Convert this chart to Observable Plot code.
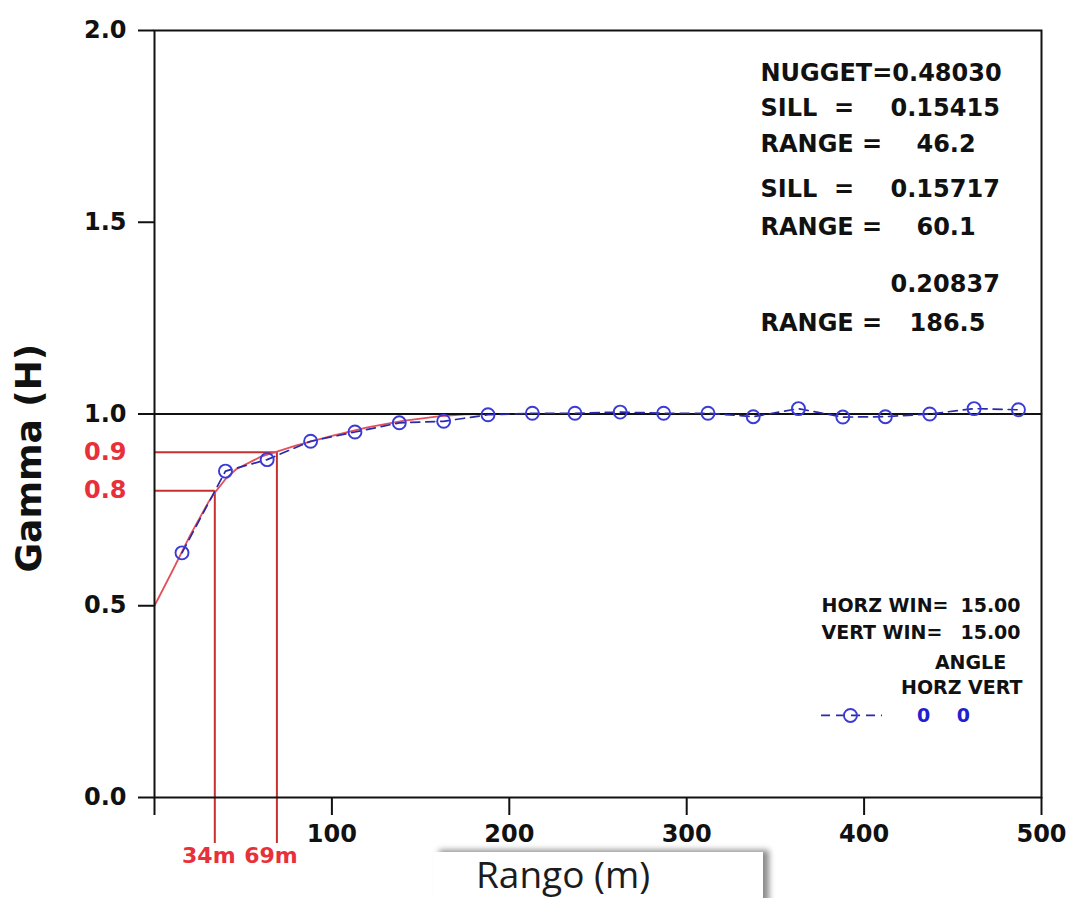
<!DOCTYPE html>
<html>
<head>
<meta charset="utf-8">
<script src="https://cdn.jsdelivr.net/npm/d3@7"></script>
<script src="https://cdn.jsdelivr.net/npm/@observablehq/plot@0.6"></script>
<style>
  html, body { margin: 0; padding: 0; background: #fff; }
  #wrap { position: relative; width: 1071px; height: 898px; overflow: hidden; }
  #wrap svg text { white-space: pre; }
  #xlabel {
    position: absolute; left: 433px; top: 852px; width: 330px; height: 70px;
    background: #fff; box-shadow: 6px -2px 6px rgba(0,0,0,0.45);
  }
  #xlabel span {
    position: absolute; left: 43px; top: 3px; font-family: "Open Sans", sans-serif;
    font-size: 37px; line-height: 37px; color: #1c1c1c; font-weight: 500; white-space: pre;
  }
</style>
</head>
<body>
<div id="wrap"></div>
<script>
// ---- data ----
const lags  = [15.5, 40, 63.5, 88, 113, 138, 163, 188, 213, 237, 262.5, 287, 312, 337.5, 363, 388, 412, 437, 462, 487];
const gamma = [0.638, 0.851, 0.881, 0.929, 0.953, 0.977, 0.981, 0.998, 1.002, 1.002, 1.005, 1.002, 1.002, 0.993, 1.014, 0.992, 0.993, 1.000, 1.014, 1.011];

const modelLag   = [0, 10, 20, 30, 34, 40, 46, 55, 60, 69, 80, 100, 120, 140, 160, 175, 186.5, 500];
const modelGamma = [0.50, 0.59, 0.683, 0.767, 0.795, 0.830, 0.856, 0.877, 0.889, 0.902, 0.918, 0.943, 0.965, 0.982, 0.994, 0.999, 1.0, 1.0];

const refLevel = [0.8, 0.9];
const refRange = [34, 69];
const refLabel = ["34m", "69m"];

const yTicks = [0, 0.5, 1, 1.5, 2];
const xTicks = [0, 100, 200, 300, 400, 500];

const nugget = 0.48030;
const sills  = [0.15415, 0.15717, 0.20837];
const ranges = [46.2, 60.1, 186.5];
const horzWin = 15.00, vertWin = 15.00;
const angleHorz = 0, angleVert = 0;

// ---- tables ----
const pts   = lags.map((x, i) => ({x, y: gamma[i]}));
const model = modelLag.map((x, i) => ({x, y: modelGamma[i]}));
const refs  = refLevel.map((g, i) => ({g, h: refRange[i], label: refLabel[i]}));

const BLK = "#111";
const RED = "#c8302e";
const RED2 = "#e8303a";
const PINK = "#e2505c";
const BLUE = "#3a3ad8";
const FONT = "'DejaVu Sans', sans-serif";

const txt = (s, o) => Plot.text([s], {text: d => d, lineAnchor: "bottom", fontSize: 24, fontWeight: "bold", fill: BLK, ...o});

const chart = Plot.plot({
  width: 1071, height: 898,
  marginLeft: 154, marginRight: 30, marginTop: 30, marginBottom: 101,
  style: {fontFamily: FONT, fontWeight: "bold", background: "#fff", overflow: "visible"},
  x: {domain: [0, 500]},
  y: {domain: [0, 2]},
  marks: [
    // reference lines
    Plot.ruleY(refs, {y: "g", x1: 0, x2: "h", stroke: RED, strokeWidth: 2}),
    Plot.ruleX(refs, {x: "h", y1: "g", y2: -0.12, stroke: RED, strokeWidth: 2}),
    Plot.text(refs, {x: "h", y: -0.152, text: "label", dx: -6, fill: RED2, fontSize: 22, fontWeight: "bold"}),
    // model
    Plot.line(model, {x: "x", y: "y", stroke: PINK, strokeWidth: 1.8}),
    // sill line
    Plot.ruleY([1], {stroke: BLK, strokeWidth: 2}),
    // experimental
    Plot.line(pts, {x: "x", y: "y", stroke: "#2a2aa8", strokeWidth: 1.7, strokeDasharray: "9,6"}),
    Plot.dot(pts, {x: "x", y: "y", r: 6.5, stroke: BLUE, strokeWidth: 1.9, fill: "none"}),
    // frame and axes
    Plot.frame({stroke: BLK, strokeWidth: 2}),
    Plot.axisY(yTicks, {tickSize: 16, tickPadding: 12, tickFormat: d3.format(".1f"), fontSize: 24, fontWeight: "bold", color: BLK, strokeWidth: 2, label: null}),
    Plot.axisY(refLevel, {tickSize: 0, tickPadding: 28, tickFormat: d3.format(".1f"), fontSize: 24, fontWeight: "bold", color: RED2, label: null}),
    Plot.axisX(xTicks, {tickSize: 18, tickPadding: 9, tickFormat: d => d === 0 ? "" : d, fontSize: 24, fontWeight: "bold", color: BLK, strokeWidth: 2, label: null}),
    Plot.text(["Gamma (H)"], {x: 0, y: 0.885, dx: -125, rotate: -90, fontSize: 36, fontWeight: "bold", fill: BLK}),
    // parameter block (top right)
    txt(`NUGGET=${nugget.toFixed(5)}`, {x: 341.6, y: 1.868, textAnchor: "start"}),
    txt("SILL  =", {x: 341.6, y: 1.778, textAnchor: "start"}),
    txt(sills[0].toFixed(5), {x: 414.9, y: 1.778, textAnchor: "start"}),
    txt("RANGE =", {x: 341.6, y: 1.683, textAnchor: "start"}),
    txt(ranges[0].toFixed(1), {x: 429.5, y: 1.683, textAnchor: "start"}),
    txt("SILL  =", {x: 341.6, y: 1.565, textAnchor: "start"}),
    txt(sills[1].toFixed(5), {x: 414.9, y: 1.565, textAnchor: "start"}),
    txt("RANGE =", {x: 341.6, y: 1.467, textAnchor: "start"}),
    txt(ranges[1].toFixed(1), {x: 429.5, y: 1.467, textAnchor: "start"}),
    txt(sills[2].toFixed(5), {x: 414.9, y: 1.318, textAnchor: "start"}),
    txt("RANGE =", {x: 341.6, y: 1.216, textAnchor: "start"}),
    txt(ranges[2].toFixed(1), {x: 425.6, y: 1.216, textAnchor: "start"}),
    // legend block (bottom right)
    txt("HORZ WIN=", {x: 376, y: 0.483, textAnchor: "start", fontSize: 19}),
    txt(horzWin.toFixed(2), {x: 488.2, y: 0.483, textAnchor: "end", fontSize: 19}),
    txt("VERT WIN=", {x: 376, y: 0.412, textAnchor: "start", fontSize: 19}),
    txt(vertWin.toFixed(2), {x: 488.2, y: 0.412, textAnchor: "end", fontSize: 19}),
    txt("ANGLE", {x: 460, y: 0.336, textAnchor: "middle", fontSize: 19}),
    txt("HORZ VERT", {x: 489.3, y: 0.271, textAnchor: "end", fontSize: 19}),
    Plot.ruleY([0.214], {x1: 376, x2: 410.4, stroke: "#2a2aa8", strokeWidth: 1.8, strokeDasharray: "9,6"}),
    Plot.dot([[392.3, 0.214]], {r: 6.5, stroke: BLUE, strokeWidth: 1.9, fill: "none"}),
    Plot.text([angleHorz, angleVert], {x: (d, i) => [433.5, 456][i], y: 0.214, text: d => String(d), fill: "#2020d0", fontSize: 19, fontWeight: "bold"})
  ]
});

const wrap = document.getElementById("wrap");
wrap.appendChild(chart);
const box = document.createElement("div");
box.id = "xlabel";
box.innerHTML = "<span>Rango (m)</span>";
wrap.appendChild(box);
</script>
</body>
</html>
